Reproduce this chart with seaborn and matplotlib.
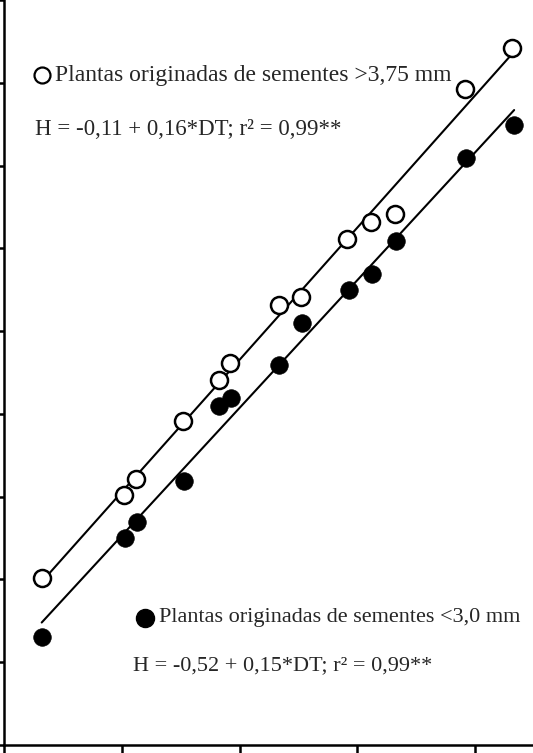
import numpy as np
import pandas as pd
import matplotlib
matplotlib.use('Agg')
import matplotlib.pyplot as plt
import seaborn as sns

# dias (DT) e altura (H)
dt_grande = [13.2, 20.2, 21.2, 25.2, 28.25, 29.2, 33.3, 35.2, 39.1, 41.15, 43.2, 49.1, 53.1]
h_grande = [2.02, 3.02, 3.21, 3.92, 4.41, 4.62, 5.32, 5.41, 6.11, 6.32, 6.42, 7.92, 8.42]

dt_pequena = [13.2, 20.3, 21.3, 25.3, 28.25, 29.3, 33.3, 35.3, 39.3, 41.25, 43.3, 49.2, 53.3]
h_pequena = [1.31, 2.50, 2.69, 3.19, 4.10, 4.19, 4.59, 5.10, 5.50, 5.69, 6.09, 7.09, 7.49]

rotulo_grande = 'Plantas originadas de sementes >3,75 mm'
rotulo_pequena = 'Plantas originadas de sementes <3,0 mm'
eq_grande = 'H = -0,11 + 0,16*DT; r² = 0,99**'
eq_pequena = 'H = -0,52 + 0,15*DT; r² = 0,99**'

df_g = pd.DataFrame({'DT': dt_grande, 'H': h_grande})
df_p = pd.DataFrame({'DT': dt_pequena, 'H': h_pequena})

sns.set_style('ticks')
plt.rcParams['font.family'] = ['Liberation Serif', 'DejaVu Serif']

fig = plt.figure(figsize=(5.33, 7.53), dpi=100)
ax = fig.add_axes([4 / 533, 8 / 753, 1 - 4 / 533, 1 - 8 / 753])

# retas de regressao
sns.regplot(data=df_g, x='DT', y='H', ax=ax, scatter=False, ci=None, truncate=True,
            line_kws={'color': 'black', 'lw': 1.5})
sns.regplot(data=df_p, x='DT', y='H', ax=ax, scatter=False, ci=None, truncate=True,
            line_kws={'color': 'black', 'lw': 1.5})

# pontos
sns.scatterplot(data=df_g, x='DT', y='H', ax=ax, marker='o', s=150,
                facecolor='white', edgecolor='black', linewidth=1.8, zorder=3)
sns.scatterplot(data=df_p, x='DT', y='H', ax=ax, marker='o', s=160,
                color='black', edgecolor='black', linewidth=0.5, zorder=3)

ax.set_xlim(10, 54.9)
ax.set_ylim(0, 9.0)
ax.set_xticks([10, 20, 30, 40, 50])
ax.set_yticks(range(0, 10))
ax.set_xticklabels([])
ax.set_yticklabels([])
ax.set_xlabel('')
ax.set_ylabel('')
sns.despine(ax=ax)
for s in ['left', 'bottom']:
    ax.spines[s].set_linewidth(1.8)
    ax.spines[s].set_color('black')
ax.tick_params(direction='out', length=7, width=1.8, color='black')

# legendas no grafico
ax.plot([0.072], [0.90], transform=ax.transAxes, marker='o', ms=11.5,
        mfc='white', mec='black', mew=1.6, clip_on=False)
ax.text(0.097, 0.899, rotulo_grande, transform=ax.transAxes, fontsize=17,
        va='center', ha='left')
ax.text(0.058, 0.826, eq_grande, transform=ax.transAxes, fontsize=16.5,
        va='center', ha='left')

ax.plot([0.267], [0.171], transform=ax.transAxes, marker='o', ms=13,
        mfc='black', mec='black', clip_on=False)
ax.text(0.293, 0.171, rotulo_pequena, transform=ax.transAxes, fontsize=16,
        va='center', ha='left')
ax.text(0.243, 0.106, eq_pequena, transform=ax.transAxes, fontsize=16,
        va='center', ha='left')

fig.savefig('out.png', dpi=100)
